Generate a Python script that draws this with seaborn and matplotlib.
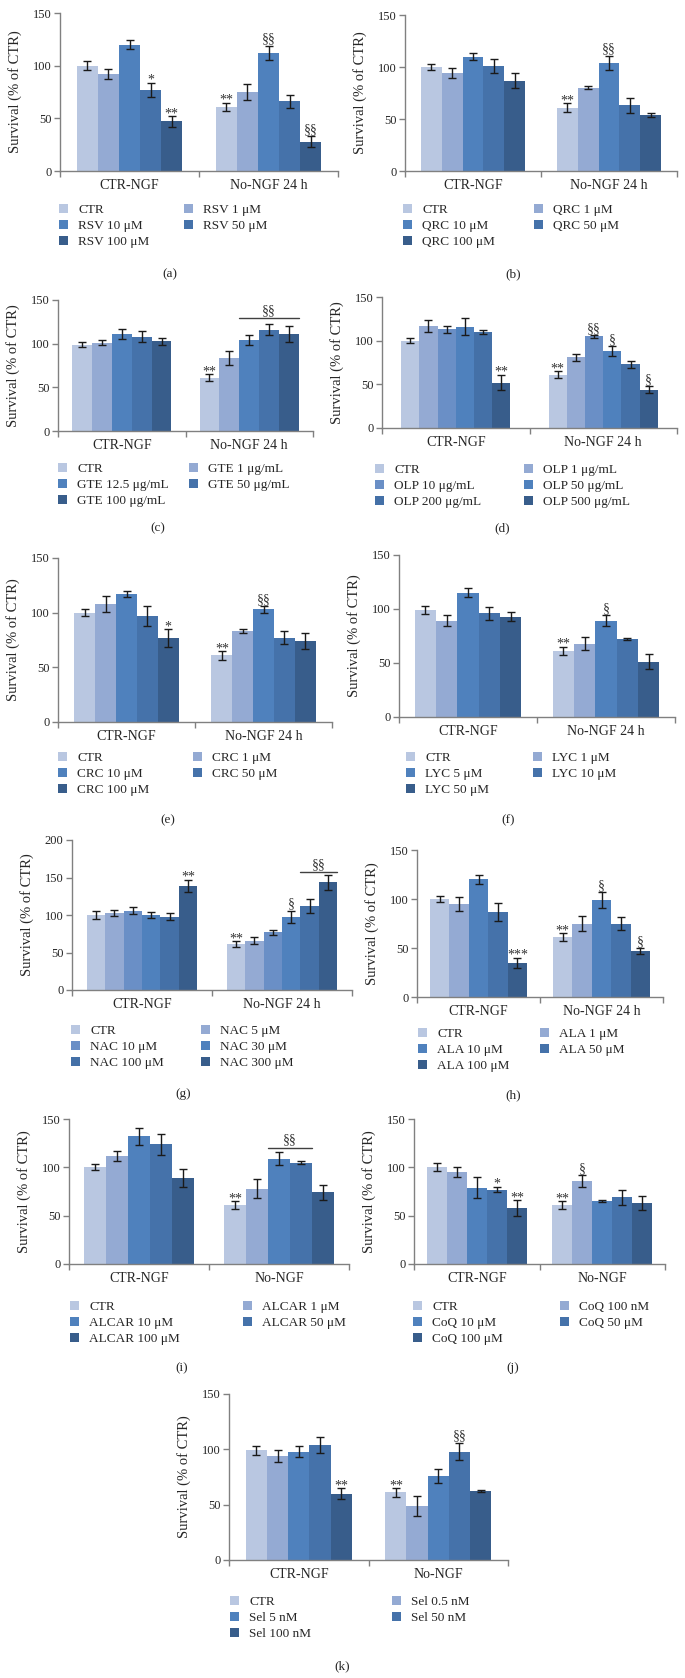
import pandas as pd
import matplotlib
matplotlib.use('Agg')
import matplotlib.pyplot as plt
import seaborn as sns
from matplotlib.patches import Patch

sns.set_style('white')
plt.rcParams['font.family'] = ['Liberation Serif', 'DejaVu Serif']

W, H = 685, 1678

groups_24h = ['CTR-NGF', 'No-NGF 24 h']
groups_short = ['CTR-NGF', 'No-NGF']

pal5 = ['#B9C7E1', '#94AAD3', '#4F81BD', '#4572AA', '#385D8B']
pal6 = ['#B9C7E1', '#94AAD3', '#6A8FC6', '#4F81BD', '#4470A7', '#385D8B']

# (a) resveratrol
rsv_labels = ['CTR', 'RSV 1 μM', 'RSV 10 μM', 'RSV 50 μM', 'RSV 100 μM']
rsv_ctr = [100, 92, 120, 77, 47]
rsv_ctr_err = [4, 5, 4, 7, 5]
rsv_no = [61, 75, 112, 66, 28]
rsv_no_err = [4, 8, 7, 6, 5]
rsv_ctr_marks = ['', '', '', '*', '**']
rsv_no_marks = ['**', '', '§§', '', '§§']

# (b) quercetin
qrc_labels = ['CTR', 'QRC 1 μM', 'QRC 10 μM', 'QRC 50 μM', 'QRC 100 μM']
qrc_ctr = [100, 94, 110, 101, 87]
qrc_ctr_err = [3, 5, 3, 7, 7]
qrc_no = [61, 80, 104, 63, 54]
qrc_no_err = [4, 1.5, 7, 7, 2]
qrc_ctr_marks = ['', '', '', '', '']
qrc_no_marks = ['**', '', '§§', '', '']

# (c) green tea extract
gte_labels = ['CTR', 'GTE 1 μg/mL', 'GTE 12.5 μg/mL', 'GTE 50 μg/mL', 'GTE 100 μg/mL']
gte_ctr = [99, 101, 111, 108, 103]
gte_ctr_err = [3, 3, 6, 6, 4]
gte_no = [61, 84, 104, 116, 111]
gte_no_err = [4, 8, 6, 6, 9]
gte_ctr_marks = ['', '', '', '', '']
gte_no_marks = ['**', '', '', '', '']

# (d) olive polyphenols
olp_labels = ['CTR', 'OLP 1 μg/mL', 'OLP 10 μg/mL', 'OLP 50 μg/mL', 'OLP 200 μg/mL', 'OLP 500 μg/mL']
olp_ctr = [100, 117, 113, 116, 110, 52]
olp_ctr_err = [3, 7, 4, 10, 2, 9]
olp_no = [61, 81, 105, 88, 73, 44]
olp_no_err = [4, 4, 1.5, 6, 4, 4]
olp_ctr_marks = ['', '', '', '', '', '**']
olp_no_marks = ['**', '', '§§', '§', '', '§']

# (e) curcumin
crc_labels = ['CTR', 'CRC 1 μM', 'CRC 10 μM', 'CRC 50 μM', 'CRC 100 μM']
crc_ctr = [100, 108, 117, 97, 77]
crc_ctr_err = [3, 7, 3, 9, 8]
crc_no = [61, 83, 103, 77, 74]
crc_no_err = [4, 2, 3, 6, 7]
crc_ctr_marks = ['', '', '', '', '*']
crc_no_marks = ['**', '', '§§', '', '']

# (f) lycopene
lyc_labels = ['CTR', 'LYC 1 μM', 'LYC 5 μM', 'LYC 10 μM', 'LYC 50 μM']
lyc_ctr = [99, 89, 115, 96, 93]
lyc_ctr_err = [4, 5, 4, 6, 4]
lyc_no = [61, 68, 89, 72, 51]
lyc_no_err = [4, 6, 5, 1, 7]
lyc_ctr_marks = ['', '', '', '', '']
lyc_no_marks = ['**', '', '§', '', '']

# (g) N-acetylcysteine
nac_labels = ['CTR', 'NAC 5 μM', 'NAC 10 μM', 'NAC 30 μM', 'NAC 100 μM', 'NAC 300 μM']
nac_ctr = [100, 103, 106, 100, 98, 139]
nac_ctr_err = [5, 4, 5, 4, 5, 8]
nac_no = [61, 66, 77, 98, 112, 144]
nac_no_err = [4, 5, 3, 8, 9, 10]
nac_ctr_marks = ['', '', '', '', '', '**']
nac_no_marks = ['**', '', '', '§', '', '']

# (h) alpha-lipoic acid
ala_labels = ['CTR', 'ALA 1 μM', 'ALA 10 μM', 'ALA 50 μM', 'ALA 100 μM']
ala_ctr = [100, 95, 120, 87, 35]
ala_ctr_err = [3, 7, 5, 9, 5]
ala_no = [61, 75, 99, 75, 47]
ala_no_err = [4, 8, 8, 7, 3]
ala_ctr_marks = ['', '', '', '', '***']
ala_no_marks = ['**', '', '§', '', '§']

# (i) acetyl-L-carnitine
alcar_labels = ['CTR', 'ALCAR 1 μM', 'ALCAR 10 μM', 'ALCAR 50 μM', 'ALCAR 100 μM']
alcar_ctr = [100, 112, 132, 124, 89]
alcar_ctr_err = [3, 5, 9, 11, 9]
alcar_no = [61, 78, 109, 105, 74]
alcar_no_err = [4, 10, 7, 2, 8]
alcar_ctr_marks = ['', '', '', '', '']
alcar_no_marks = ['**', '', '', '', '']

# (j) coenzyme Q10
coq_labels = ['CTR', 'CoQ 100 nM', 'CoQ 10 μM', 'CoQ 50 μM', 'CoQ 100 μM']
coq_ctr = [100, 95, 79, 77, 58]
coq_ctr_err = [4, 5, 11, 3, 8]
coq_no = [61, 86, 65, 69, 63]
coq_no_err = [4, 6, 1, 8, 7]
coq_ctr_marks = ['', '', '', '*', '**']
coq_no_marks = ['**', '§', '', '', '']

# (k) selenium
sel_labels = ['CTR', 'Sel 0.5 nM', 'Sel 5 nM', 'Sel 50 nM', 'Sel 100 nM']
sel_ctr = [99, 94, 98, 104, 60]
sel_ctr_err = [4, 5, 5, 7, 5]
sel_no = [61, 49, 76, 98, 62]
sel_no_err = [4, 9, 6, 8, 1]
sel_ctr_marks = ['', '', '', '', '**']
sel_no_marks = ['**', '', '', '§§', '']

# brackets: (group index, first bar, last bar, y, text)
gte_bracket = (1, 2, 4, 129, '§§')
nac_bracket = (1, 4, 5, 157, '§§')
alcar_bracket = (1, 2, 3, 120, '§§')

panels = [
    ('(a)', groups_24h, rsv_labels, rsv_ctr, rsv_ctr_err, rsv_no, rsv_no_err, rsv_ctr_marks, rsv_no_marks, None),
    ('(b)', groups_24h, qrc_labels, qrc_ctr, qrc_ctr_err, qrc_no, qrc_no_err, qrc_ctr_marks, qrc_no_marks, None),
    ('(c)', groups_24h, gte_labels, gte_ctr, gte_ctr_err, gte_no, gte_no_err, gte_ctr_marks, gte_no_marks, gte_bracket),
    ('(d)', groups_24h, olp_labels, olp_ctr, olp_ctr_err, olp_no, olp_no_err, olp_ctr_marks, olp_no_marks, None),
    ('(e)', groups_24h, crc_labels, crc_ctr, crc_ctr_err, crc_no, crc_no_err, crc_ctr_marks, crc_no_marks, None),
    ('(f)', groups_24h, lyc_labels, lyc_ctr, lyc_ctr_err, lyc_no, lyc_no_err, lyc_ctr_marks, lyc_no_marks, None),
    ('(g)', groups_24h, nac_labels, nac_ctr, nac_ctr_err, nac_no, nac_no_err, nac_ctr_marks, nac_no_marks, nac_bracket),
    ('(h)', groups_24h, ala_labels, ala_ctr, ala_ctr_err, ala_no, ala_no_err, ala_ctr_marks, ala_no_marks, None),
    ('(i)', groups_short, alcar_labels, alcar_ctr, alcar_ctr_err, alcar_no, alcar_no_err, alcar_ctr_marks, alcar_no_marks, alcar_bracket),
    ('(j)', groups_short, coq_labels, coq_ctr, coq_ctr_err, coq_no, coq_no_err, coq_ctr_marks, coq_no_marks, None),
    ('(k)', groups_short, sel_labels, sel_ctr, sel_ctr_err, sel_no, sel_no_err, sel_ctr_marks, sel_no_marks, None),
]

# pixel layout: left, right, top, bottom, ymax, bar width, legend x1, x2, legend y, label x, label y
layout = [
    (60, 338, 13, 171, 150, 0.76, 59, 184, 212, 170, 274),
    (405, 677, 15, 171, 150, 0.765, 403, 534, 212, 513, 274),
    (58, 313, 300, 431, 150, 0.78, 58, 189, 471, 158, 528),
    (382, 677, 297, 428, 150, 0.74, 375, 524, 472, 502, 528),
    (58, 332, 558, 722, 150, 0.76, 58, 193, 760, 168, 820),
    (399, 675, 555, 717, 150, 0.775, 406, 533, 760, 508, 820),
    (72, 352, 840, 990, 200, 0.79, 71, 201, 1033, 183, 1094),
    (417, 663, 850, 997, 150, 0.79, 418, 540, 1036, 513, 1095),
    (69, 349, 1119, 1264, 150, 0.78, 70, 243, 1309, 182, 1368),
    (414, 665, 1119, 1264, 150, 0.80, 413, 560, 1309, 513, 1368),
    (229, 508, 1394, 1560, 150, 0.76, 230, 392, 1604, 342, 1666),
]

fig = plt.figure(figsize=(W / 100, H / 100), dpi=100)
spine_col = '#808080'

for spec, lay in zip(panels, layout):
    tag, groups, labels, ctr, ctr_err, no, no_err, ctr_marks, no_marks, bracket = spec
    left, right, top, bottom, ymax, bw, lx1, lx2, ly, tx, ty = lay
    n = len(labels)
    pal = pal5 if n == 5 else pal6

    ax = fig.add_axes([left / W, 1 - bottom / H, (right - left) / W, (bottom - top) / H])
    df = pd.DataFrame({
        'group': [groups[0]] * n + [groups[1]] * n,
        'treatment': labels + labels,
        'value': ctr + no,
    })
    sns.barplot(data=df, x='group', y='value', hue='treatment', order=groups,
                hue_order=labels, palette=pal, width=bw, saturation=1,
                errorbar=None, legend=False, linewidth=0, ax=ax)
    bars = list(ax.containers)  # one container per treatment

    errs = [ctr_err, no_err]
    marks = [ctr_marks, no_marks]
    for i, cont in enumerate(bars):
        for j, bar in enumerate(cont):
            x = bar.get_x() + bar.get_width() / 2
            h = bar.get_height()
            e = errs[j][i]
            ax.errorbar(x, h, yerr=e, fmt='none', ecolor='#1a1a1a',
                        elinewidth=1, capsize=3, capthick=1)
            m = marks[j][i]
            if m:
                off = -3 if '*' in m else 0
                ax.annotate(m, (x, h + e), xytext=(0, off), textcoords='offset points',
                            ha='center', va='bottom', fontsize=10, color='#333333')

    if bracket is not None:
        g, b0, b1, yb, txt = bracket
        x0 = bars[b0][g].get_x()
        x1 = bars[b1][g].get_x() + bars[b1][g].get_width()
        ax.plot([x0, x1], [yb, yb], color='#404040', lw=1)
        ax.annotate(txt, ((x0 + x1) / 2, yb), xytext=(0, 1), textcoords='offset points',
                    ha='center', va='bottom', fontsize=10, color='#333333')

    ax.set_xlim(-0.5, 1.5)
    ax.set_ylim(0, ymax)
    ax.set_yticks(range(0, ymax + 1, 50))
    ax.set_xticks([-0.5, 0.5, 1.5], minor=True)
    ax.set_xlabel('')
    ax.set_ylabel('Survival (% of CTR)', fontsize=10.5)
    ax.yaxis.set_label_coords(-38 / (right - left), 0.5)
    for s in ['top', 'right']:
        ax.spines[s].set_visible(False)
    for s in ['left', 'bottom']:
        ax.spines[s].set_color(spine_col)
        ax.spines[s].set_linewidth(1)
    ax.tick_params(axis='y', which='major', direction='out', length=4, width=1,
                   color=spine_col, labelsize=9, pad=2, left=True)
    ax.tick_params(axis='x', which='major', length=0, labelsize=10, pad=6)
    ax.tick_params(axis='x', which='minor', direction='out', length=4, width=1,
                   color=spine_col, bottom=True)

    handles = [Patch(facecolor=c, edgecolor='none') for c in pal]
    col1 = list(range(0, n, 2))
    col2 = list(range(1, n, 2))
    for xs, idx in [(lx1, col1), (lx2, col2)]:
        fig.legend([handles[k] for k in idx], [labels[k] for k in idx],
                   loc='upper left', bbox_to_anchor=(xs / W, 1 - (ly - 8) / H),
                   frameon=False, borderpad=0, borderaxespad=0, handlelength=0.65,
                   handleheight=0.65, handletextpad=0.8, labelspacing=0.3, fontsize=9.5)

    fig.text(tx / W, 1 - ty / H, tag, ha='center', va='center', fontsize=9.5)

fig.savefig('out.png', dpi=100, facecolor='white')
